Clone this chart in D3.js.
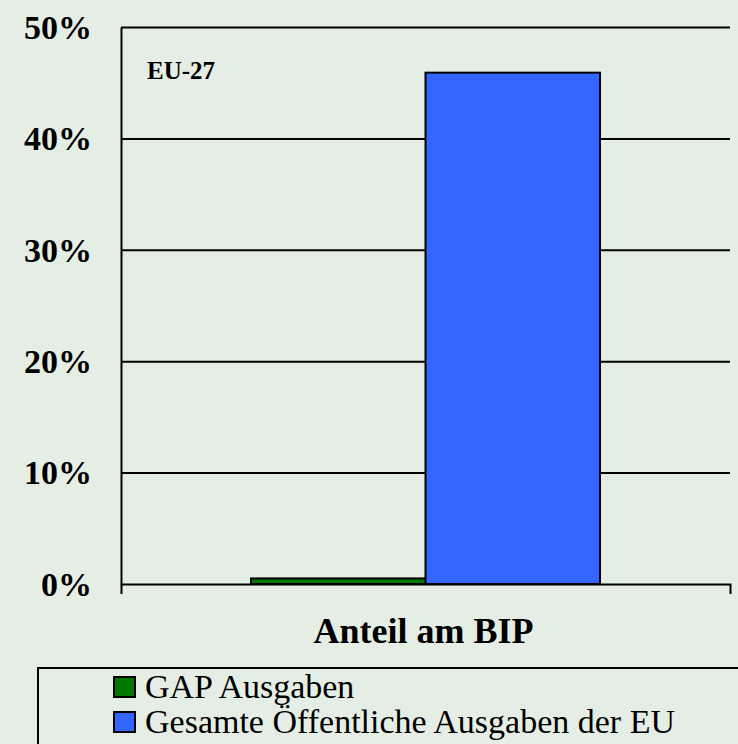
<!DOCTYPE html>
<html>
<head>
<meta charset="utf-8">
<script src="https://cdn.jsdelivr.net/npm/d3@7"></script>
<style>
  html, body { margin: 0; padding: 0; background: #e5eee5; }
  svg { display: block; }
  text { font-family: "Liberation Serif", "Times New Roman", Times, serif; }
</style>
</head>
<body>
<svg></svg>
<script>
// data
let categories = ["Anteil am BIP"]
let seriesNames = ["GAP Ausgaben", "Gesamte Öffentliche Ausgaben der EU"]
let gapValues = [0.5]
let totalValues = [45.9]
let yTicks = [0, 10, 20, 30, 40, 50]
let seriesColors = ["#007800", "#3366ff"]

let width = 738
let height = 744
let plotLeft = 121, plotRight = 730, plotTop = 27, plotBottom = 584
let serif = '"Liberation Serif", "Times New Roman", Times, serif'

let svg = d3.select("svg").attr("width", width).attr("height", height)

let yScale = d3.scaleLinear().domain([0, 50]).range([plotBottom, plotTop])
let xScale = d3.scaleBand().domain(categories).range([plotLeft, plotRight]).padding(0)
let subScale = d3.scaleBand().domain(seriesNames)
  .range([0, xScale.bandwidth()])
  .paddingInner(0).paddingOuter(0.745)

// gridlines
svg.append("g")
  .attr("transform", "translate(" + plotLeft + ",0)")
  .call(d3.axisLeft(yScale).tickValues(yTicks.slice(1)).tickSize(-(plotRight - plotLeft)).tickFormat(""))
  .call(g => g.select(".domain").remove())
  .selectAll("line").attr("stroke", "#000").attr("stroke-width", 2)

// bars
let rows = categories.map((c, i) => ({ cat: c, vals: [gapValues[i], totalValues[i]] }))
svg.selectAll("g.cat")
  .data(rows)
  .enter()
  .append("g")
  .attr("class", "cat")
  .attr("transform", d => "translate(" + xScale(d.cat) + ",0)")
  .selectAll("rect")
  .data(d => d.vals.map((v, j) => ({ name: seriesNames[j], v: v, color: seriesColors[j] })))
  .enter()
  .append("rect")
  .attr("x", d => subScale(d.name))
  .attr("width", subScale.bandwidth())
  .attr("y", d => yScale(d.v))
  .attr("height", d => yScale(0) - yScale(d.v))
  .attr("fill", d => d.color)
  .attr("stroke", "#000")
  .attr("stroke-width", 2)

// y axis
let yAxis = svg.append("g")
  .attr("transform", "translate(" + plotLeft + ",0)")
  .call(d3.axisLeft(yScale).tickValues(yTicks).tickSize(0).tickSizeOuter(0).tickPadding(29).tickFormat(d => d + "%"))
yAxis.select(".domain").attr("stroke", "#000").attr("stroke-width", 2)
yAxis.selectAll("text")
  .attr("font-family", serif)
  .attr("font-weight", "bold")
  .attr("font-size", 34)
  .attr("fill", "#000")
  .attr("dy", "0.33em")

// x axis (edge ticks only)
let xAxis = svg.append("g")
  .attr("transform", "translate(0," + plotBottom + ")")
  .call(d3.axisBottom(xScale).tickValues([]).tickSizeOuter(10))
xAxis.select(".domain").attr("stroke", "#000").attr("stroke-width", 2)

svg.append("text")
  .attr("x", xScale(categories[0]) + xScale.bandwidth() / 2 - 2)
  .attr("y", 643)
  .attr("text-anchor", "middle")
  .attr("font-family", serif)
  .attr("font-weight", "bold")
  .attr("font-size", 36)
  .text(categories[0])

svg.append("text")
  .attr("x", 147)
  .attr("y", 79)
  .attr("font-family", serif)
  .attr("font-weight", "bold")
  .attr("font-size", 25)
  .text("EU-27")

// legend
svg.append("rect")
  .attr("x", 38).attr("y", 668)
  .attr("width", 720).attr("height", 100)
  .attr("fill", "none").attr("stroke", "#000").attr("stroke-width", 2)

let legend = svg.selectAll("g.legend")
  .data(seriesNames)
  .enter()
  .append("g")
  .attr("class", "legend")
  .attr("transform", (d, i) => "translate(114," + (698 + i * 35) + ")")
legend.append("rect")
  .attr("x", 0).attr("y", -21)
  .attr("width", 21).attr("height", 20)
  .attr("fill", (d, i) => seriesColors[i])
  .attr("stroke", "#000").attr("stroke-width", 2)
legend.append("text")
  .attr("x", 31).attr("y", 0)
  .attr("font-family", serif)
  .attr("font-size", 34)
  .text(d => d)
</script>
</body>
</html>
